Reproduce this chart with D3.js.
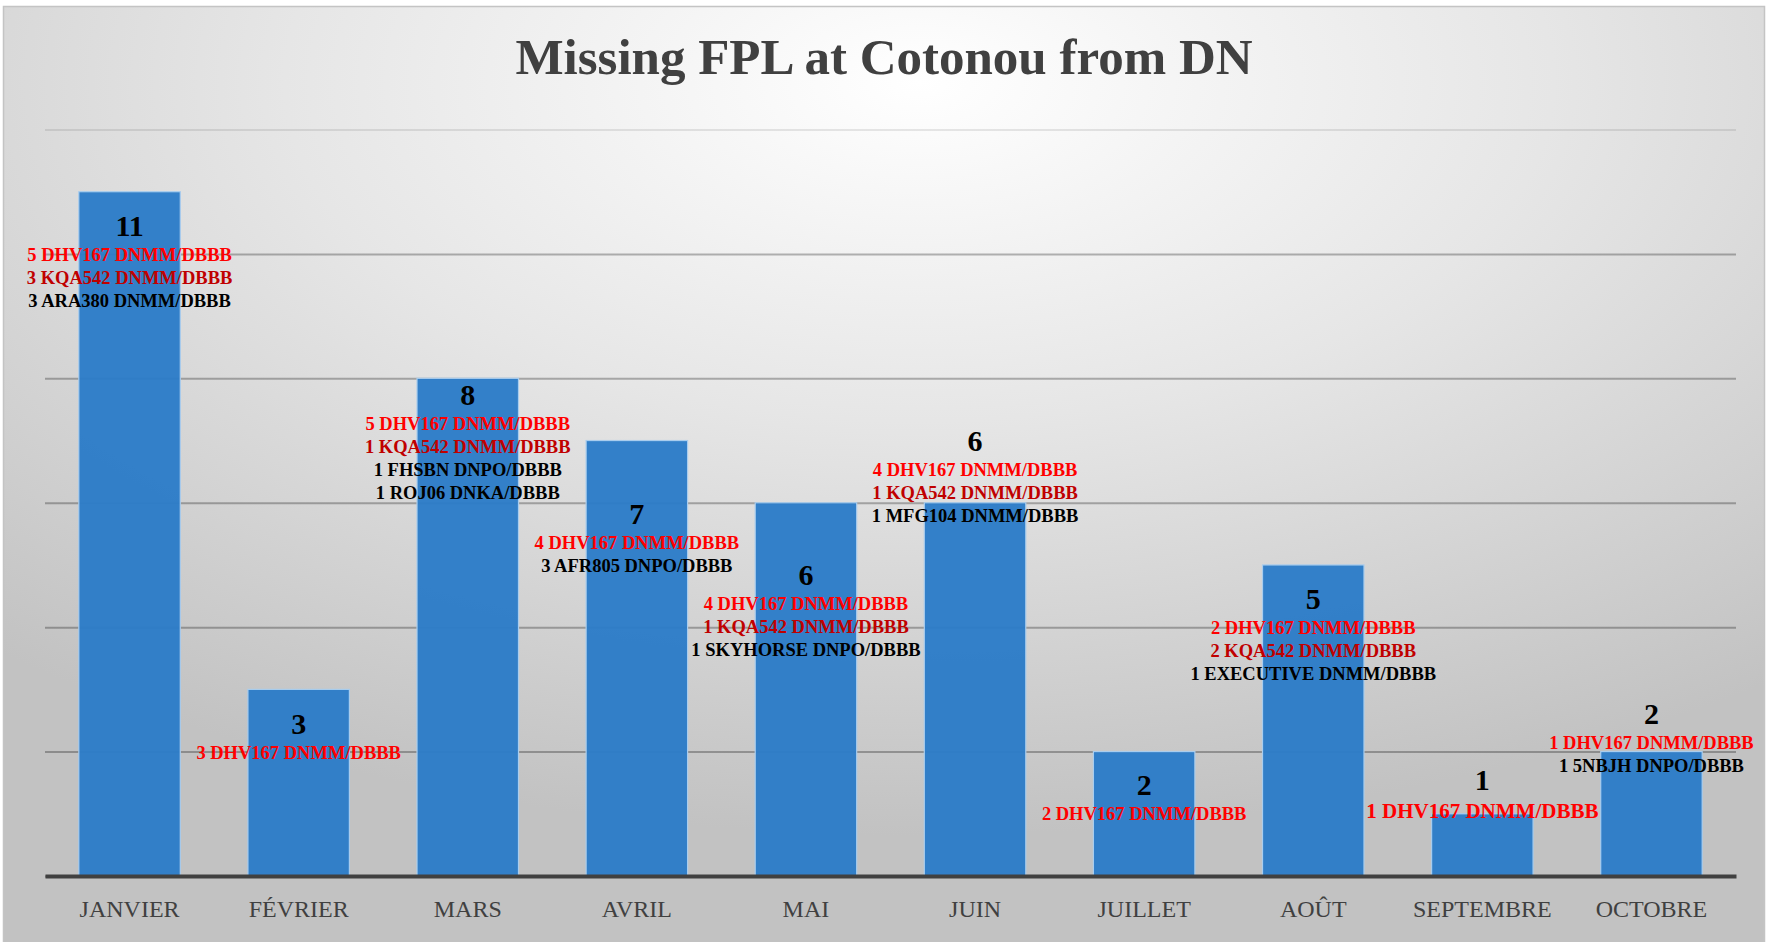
<!DOCTYPE html>
<html>
<head>
    <meta charset='utf-8'>
    <title> Missing FPL at Cotonou from DN </title>
    <script src='https://d3js.org/d3.v7.min.js'></script>
    <style>
      body { margin: 0; background: #ffffff; }
      svg { display: block; }
    </style>
</head>
<body>

<div id="container"></div>

<script>

// chart data
var months = ["JANVIER", "FÉVRIER", "MARS", "AVRIL", "MAI", "JUIN", "JUILLET", "AOÛT", "SEPTEMBRE", "OCTOBRE"];
var missing = [11, 3, 8, 7, 6, 6, 2, 5, 1, 2];
var details = [
  ["5 DHV167 DNMM/DBBB", "3 KQA542 DNMM/DBBB", "3 ARA380 DNMM/DBBB"],
  ["3 DHV167 DNMM/DBBB"],
  ["5 DHV167 DNMM/DBBB", "1 KQA542 DNMM/DBBB", "1 FHSBN DNPO/DBBB", "1 ROJ06 DNKA/DBBB"],
  ["4 DHV167 DNMM/DBBB", "3 AFR805 DNPO/DBBB"],
  ["4 DHV167 DNMM/DBBB", "1 KQA542 DNMM/DBBB", "1 SKYHORSE DNPO/DBBB"],
  ["4 DHV167 DNMM/DBBB", "1 KQA542 DNMM/DBBB", "1 MFG104 DNMM/DBBB"],
  ["2 DHV167 DNMM/DBBB"],
  ["2 DHV167 DNMM/DBBB", "2 KQA542 DNMM/DBBB", "1 EXECUTIVE DNMM/DBBB"],
  ["1 DHV167 DNMM/DBBB"],
  ["1 DHV167 DNMM/DBBB", "1 5NBJH DNPO/DBBB"]
];
var yTicks = [0, 2, 4, 6, 8, 10, 12];

// label placement (baseline of the value, px from bar top) - hand placed like the original
var labelShift = [44, 45, 27, 83, 82, -52, 43, 44, -24, -28];

const width = 1767,
      height = 942,
      margin = {
          top: 129.5,
          bottom: 66,
          left: 45,
          right: 31,
      };

function lineColor(s) {
  if (s.indexOf("DHV167") >= 0) return "#ff0000";
  if (s.indexOf("KQA542") >= 0) return "#c00000";
  return "#000000";
}

var svg = d3.select("#container")
  .append("svg")
  .attr("width", width)
  .attr("height", height);

var defs = svg.append("defs");
var grad = defs.append("radialGradient")
  .attr("id", "bg")
  .attr("cx", 0.52)
  .attr("cy", 0.08)
  .attr("r", 0.8);
grad.append("stop").attr("offset", "0%").attr("stop-color", "#ffffff");
grad.append("stop").attr("offset", "45%").attr("stop-color", "#e6e6e6");
grad.append("stop").attr("offset", "100%").attr("stop-color", "#c2c2c2");

svg.append("rect")
  .attr("x", 3.5)
  .attr("y", 6.5)
  .attr("width", width - 6)
  .attr("height", height)
  .attr("fill", "url(#bg)")
  .attr("stroke", "#c4c4c4")
  .attr("stroke-width", 1.5);

var x = d3.scaleBand()
  .domain(months)
  .range([margin.left, width - margin.right])
  .paddingInner(0.4)
  .paddingOuter(0.2);

var y = d3.scaleLinear()
  .domain([0, 12])
  .range([height - margin.bottom, margin.top]);

// gridlines
svg.append("g")
  .attr("transform", `translate(${margin.left}, 0)`)
  .call(d3.axisLeft(y).tickValues(yTicks).tickSize(-(width - margin.right - margin.left)).tickFormat(""))
  .call(function(g) {
    g.select(".domain").remove();
    g.selectAll(".tick line")
      .attr("stroke", "#000")
      .attr("stroke-opacity", function(d) { return d == 12 ? 0.09 : 0.28; })
      .attr("stroke-width", 2);
  });

// bars
svg.selectAll("rect.bar")
  .data(missing)
  .enter()
  .append("rect")
  .attr("class", "bar")
  .attr("x", function(d, i) { return x(months[i]); })
  .attr("y", function(d) { return y(d); })
  .attr("width", x.bandwidth())
  .attr("height", function(d) { return y(0) - y(d); })
  .attr("fill", "#2c7cc8")
  .attr("fill-opacity", 0.96)
  .attr("stroke", "#a9cdee")
  .attr("stroke-width", 1.2);

// x axis
svg.append("g")
  .attr("transform", `translate(0, ${y(0)})`)
  .call(d3.axisBottom(x).tickSize(0).tickPadding(0))
  .call(function(g) {
    g.select(".domain")
      .attr("stroke", "#404040")
      .attr("stroke-width", 4);
    g.selectAll(".tick text")
      .attr("y", 41)
      .attr("dy", 0)
      .attr("fill", "#404040")
      .style("font-family", "'Liberation Serif', serif")
      .style("font-size", "24px");
  });

// value labels and flight details
var labels = svg.selectAll("g.lbl")
  .data(missing)
  .enter()
  .append("g")
  .attr("class", "lbl")
  .attr("transform", function(d, i) {
    return `translate(${x(months[i]) + x.bandwidth() / 2}, ${y(d) + labelShift[i]})`;
  });

labels.append("text")
  .attr("text-anchor", "middle")
  .attr("fill", "#000")
  .style("font-family", "'Liberation Serif', serif")
  .style("font-weight", "bold")
  .style("font-size", "30px")
  .text(function(d) { return d; });

labels.each(function(d, i) {
  var g = d3.select(this);
  var big = months[i] == "SEPTEMBRE";
  g.selectAll("text.line")
    .data(details[i])
    .enter()
    .append("text")
    .attr("class", "line")
    .attr("text-anchor", "middle")
    .attr("dominant-baseline", "central")
    .attr("y", function(s, j) { return (big ? 21 : 19) + j * 23; })
    .attr("fill", function(s) { return lineColor(s); })
    .style("font-family", "'Liberation Serif', serif")
    .style("font-weight", "bold")
    .style("font-size", big ? "21px" : "18.5px")
    .text(function(s) { return s; });
});

svg.append("text")
  .attr("x", 884)
  .attr("y", 74)
  .attr("text-anchor", "middle")
  .attr("fill", "#404040")
  .style("font-family", "'Liberation Serif', serif")
  .style("font-weight", "bold")
  .style("font-size", "51px")
  .text("Missing FPL at Cotonou from DN");

</script>

</body>
</html>
